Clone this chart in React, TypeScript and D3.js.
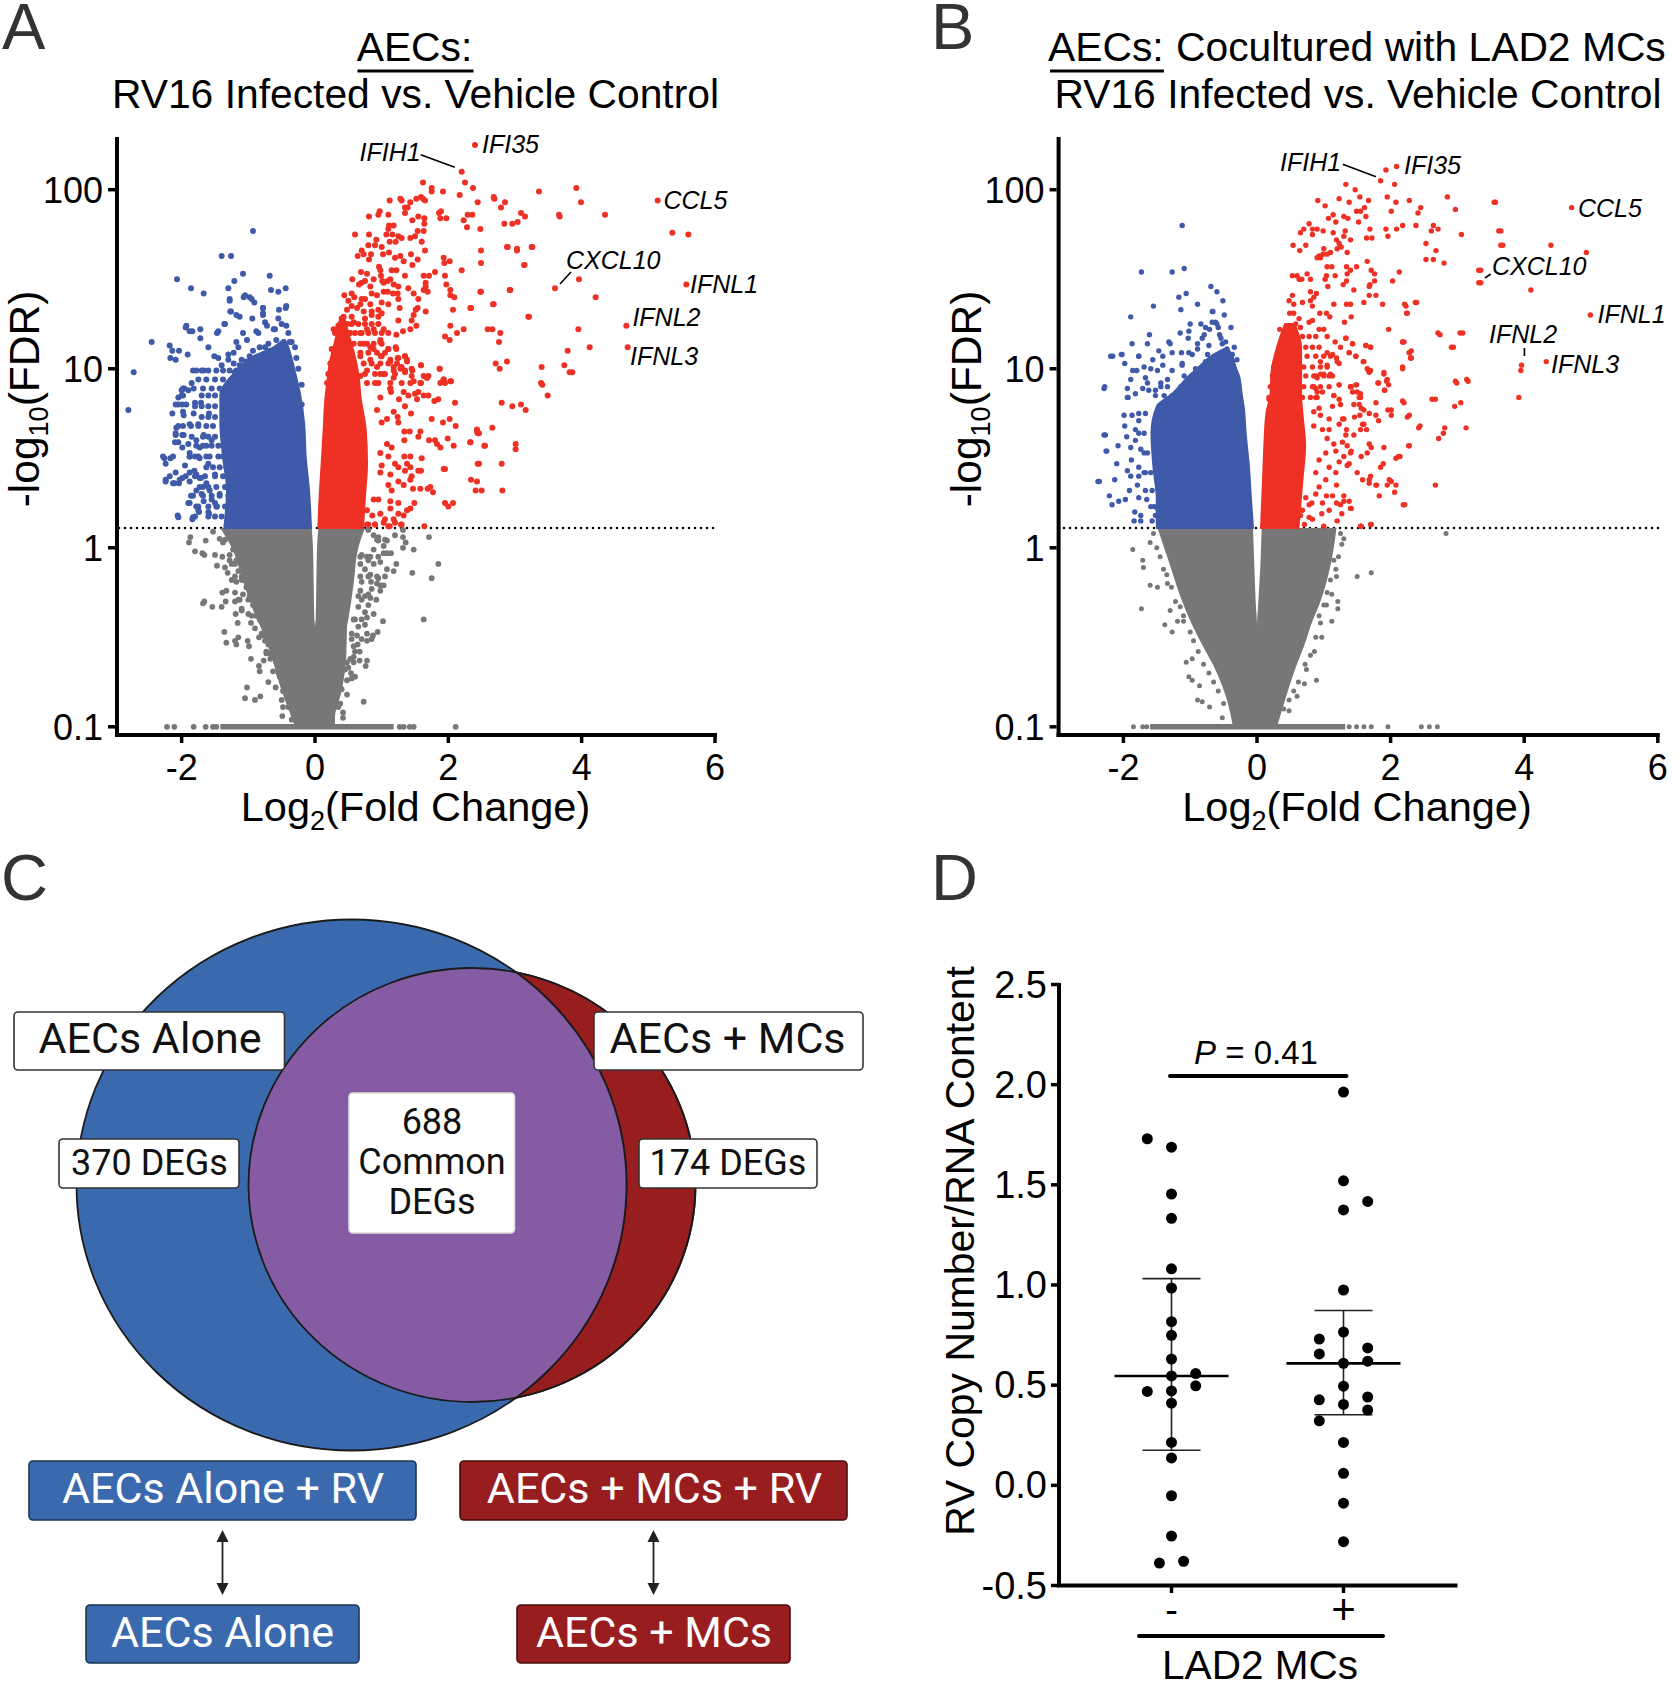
import * as d3 from "d3";

type Pt = [number, number]; // [log2 fold change, log10 of the plotted -log10(FDR)]
type Row = [number, number, number]; // [log10 of plotted value, low fc, high fc] for the solid part of a cloud

const xTicks = [-2, 0, 2, 4, 6];
const yTicks = [0.1, 1, 10, 100];
const yFmt = ["0.1", "1", "10", "100"];

// panel A
const redA: Pt[] = [[2.40,2.25],[2.20,2.10],[2.25,2.04],[2.37,2.01],[2.17,1.97],[1.62,2.04],[1.75,2.01],[1.75,1.99],[1.92,1.99],[2.68,1.96],[2.69,1.95],[2.85,1.93],[2.79,1.90],[3.36,1.99],[2.44,1.93],[1.12,1.94],[1.28,1.95],[1.30,1.94],[1.43,1.93],[1.52,1.95],[1.59,1.96],[1.65,1.94],[1.62,1.95],[1.35,1.90],[1.39,1.90],[1.35,1.87],[.97,1.88],[.95,1.86],[.81,1.85],[1.10,1.86],[1.89,1.88],[1.86,1.87],[1.88,1.84],[1.97,1.84],[2.29,1.86],[2.36,1.86],[2.23,1.83],[2.28,1.79],[2.48,1.78],[3.09,1.87],[3.15,1.85],[3.04,1.82],[2.96,1.81],[2.84,1.81],[3.66,1.86],[1.55,1.85],[1.64,1.84],[1.64,1.81],[1.46,1.83],[1.63,1.77],[1.54,1.77],[1.50,1.74],[1.43,1.73],[1.60,1.71],[1.11,1.80],[1.18,1.80],[1.10,1.78],[1.07,1.75],[1.16,1.75],[.60,1.75],[.81,1.75],[1.25,1.74],[1.30,1.73],[1.12,1.71],[1.21,1.71],[.92,1.72],[.90,1.69],[.80,1.69],[1.00,1.68],[.70,1.66],[.84,1.64],[.64,1.63],[.73,1.64],[1.02,1.64],[1.11,1.65],[.81,1.61],[1.20,1.62],[1.28,1.63],[1.44,1.64],[1.65,1.66],[1.54,1.61],[1.33,1.60],[1.46,1.58],[2.49,1.66],[2.49,1.59],[2.88,1.68],[3.03,1.67],[3.25,1.68],[3.14,1.58],[1.93,1.62],[1.94,1.59],[2.02,1.60],[2.20,1.55],[1.95,1.52],[1.80,1.54],[1.71,1.52],[1.63,1.52],[1.66,1.48],[1.66,1.46],[1.63,1.44],[1.69,1.43],[1.97,1.47],[2.03,1.44],[2.03,1.41],[2.09,1.40],[1.40,1.45],[1.48,1.42],[1.55,1.39],[2.48,1.43],[2.92,1.44],[3.60,1.45],[2.67,1.36],[2.33,1.34],[2.07,1.33],[1.66,1.32],[1.54,1.34],[1.51,1.33],[1.48,1.30],[1.45,1.27],[1.52,1.24],[1.43,1.22],[1.32,1.21],[1.25,1.27],[3.20,1.29],[2.03,1.24],[2.23,1.22],[2.13,1.20],[1.95,1.18],[2.02,1.16],[2.59,1.22],[2.66,1.22],[2.78,1.20],[2.76,1.15],
[1.35,1.52],[1.22,1.55],[1.15,1.55],[.96,1.57],[.98,1.55],[.69,1.54],[.78,1.53],[.56,1.50],[.88,1.50],[.99,1.52],[1.01,1.49],[1.13,1.50],[1.09,1.49],[1.03,1.48],[1.18,1.47],[1.25,1.46],[.66,1.47],[.70,1.48],[.75,1.49],[.83,1.46],[.44,1.41],[.55,1.42],[.59,1.40],[.50,1.38],[.85,1.42],[.93,1.41],[1.03,1.43],[1.09,1.43],[1.17,1.42],[1.24,1.42],[1.25,1.39],[.70,1.39],[.75,1.39],[.83,1.36],[1.00,1.37],[1.10,1.36],[1.27,1.34],[.63,1.34],[.73,1.32],[.85,1.32],[.85,1.30],[.95,1.33],[1.00,1.31],[.95,1.29],[.55,1.29],[.40,1.28],[.75,1.28],[1.03,1.22],[.88,1.22],[.78,1.22],[1.10,1.20],[1.22,1.19],[.28,1.22],[.32,1.21],
[3.79,1.10],[2.71,1.03],[2.88,1.04],[2.77,1.00],[3.40,1.01],[3.74,1.02],[3.39,.92],[3.82,.98],[.25,1.11],[.98,1.16],[1.10,1.11],[1.22,1.11],[.99,1.07],[1.35,1.07],[1.38,1.05],[1.24,1.06],[1.13,1.05],[1.30,1.01],[1.59,1.02],[1.87,1.00],[1.46,.99],[1.35,.98],[1.70,.96],[1.68,.95],[1.48,.93],[1.58,.92],[1.93,.94],[2.03,.93],[1.95,.92],[1.13,.89],[.43,1.18],[.53,1.20],[.58,1.14],[.68,1.20],[.73,1.14],[.83,1.12],[.68,1.07],[.83,1.05],[.93,1.01],[.78,.99],[.68,.96],[.90,.92],[1.03,.97],[1.18,.99],
[3.92,2.01],[3.99,1.93],[3.67,1.85],[4.35,1.86],[5.14,1.94],[5.36,1.76],[5.60,1.75],[3.26,1.68],[3.03,1.66],[2.89,1.68],[3.14,1.58],[3.96,1.50],[4.21,1.40],[5.57,1.47],[3.21,1.29],[3.95,1.22],[4.67,1.24],[4.69,1.12],[4.12,1.12],[3.86,.98],[3.41,.91],[3.49,.85],[2.96,.79],[3.09,.80],[3.16,.77],[2.80,.81],[3.01,.58],[3.01,.55],[2.66,.67],[2.43,.65],[2.46,.64],[2.55,.57],[2.33,.59],[2.80,.47],[2.46,.47],[2.43,.37],[2.50,.32],[2.81,.32],[2.68,1.36],[2.34,1.34],[2.49,1.43],[2.93,1.44],
[.88,1.11],[.98,1.15],[1.1,1.11],[1.21,1.12],[1,1.07],[1.13,1.04],[1.25,1.06],[1.35,1.07],[1.38,1.04],[1.18,1.01],[1.28,1],[1.59,1.02],[1.35,.99],[1.45,1],[.98,.97],[1.18,.95],[1.45,.96],[1.43,.92],[1.63,.96],[1.68,.95],[1.59,.92],[1.87,1],[1.93,.94],[1.88,.92],[2.04,.93],[1.13,.89],[1.14,.87],[1.33,.87],[1.4,.85],[1.5,.86],[1.55,.87],[1.63,.85],[1.7,.85],[1.53,.83],[1.26,.83],[1.35,.79],[1.44,.75],[1.18,.76],[1.24,.73],[1.25,.7],[.98,.84],[.93,.77],[1.08,.72],[1,.7],[1.79,.82],[1.85,.83],[2.1,.81],[1.75,.72],[2.02,.72],[1.92,.7],[2.11,.68],[1.42,.65],[1.34,.65],[1.58,.65],[1.34,.6],[1.55,.62],[1.71,.6],[1.8,.6],[1.83,.58],[1.99,.61],[1.88,.56],[2.08,.57],[2.33,.59],[2.43,.66],[2.44,.64],[2.54,.57],[1.08,.58],[1.15,.56],[.98,.53],[1.1,.51],[1.34,.51],[1.43,.51],[1.6,.5],[1,.46],[1.2,.47],[1.25,.45],[1.38,.47],[1.43,.45],[1.35,.43],[1.45,.4],[1.55,.43],[1.59,.43],[1.93,.44],[1.95,.44],[2.44,.47],[.98,.42],[1.13,.41],[1.43,.38],[1.25,.37],[1.33,.35],[1.1,.35],[1.15,.32],[1.47,.33],[1.58,.33],[1.73,.34],[1.69,.33],[1.77,.31],[2.34,.38],[2.41,.32],[.88,.27],[.95,.27],[1.13,.26],[1.25,.25],[1.49,.25],[1.43,.22],[1.38,.21],[1.95,.25],[2,.23],[2.07,.25],[1.13,.22],[.98,.19],[1.25,.19],[1.33,.18],[.78,.21],[.86,.18],[1.18,.16],[.9,.13],[1.05,.16],[1.1,.12],[1.29,.13],[1.64,.12],[.8,.13],[.78,.13],[.90,.13],[1.03,.14],[1.12,.12],[1.20,.14],[1.30,.13]];
const redCloudA: Pt[] = [[.38,1.25],[.48,1.25],[.55,1.25],[.65,1.25],[.75,1.25],[.85,1.25],[.95,1.25],[.3,1.2],[.4,1.2],[.5,1.2],[.6,1.2],[.7,1.2],[.8,1.2],[.9,1.2],[1,1.2],[.33,1.14],[.48,1.14],[.68,1.14],[.78,1.14],[.88,1.14],[1,1.14],[.28,1.09],[.55,1.09],[.68,1.09],[.8,1.09],[.93,1.09],[1.05,1.09],[.23,1.03],[.58,1.03],[.73,1.03],[.85,1.03],[.98,1.03],[1.1,1.03],[1.23,1.03],[.2,.97],[.6,.97],[.75,.97],[.9,.97],[1.05,.97],[1.2,.97],[.18,.92],[.63,.92],[.78,.92],[.95,.92],[1.13,.92],[1.3,.92],[.48,1.33],[.55,1.35],[.68,1.36],[.43,1.29],[.58,1.26],[.35,1.24]];
const blueA: Pt[] = [[-.93,1.77],[-1.40,1.63],[-1.26,1.63],[-2.07,1.50],[-1.86,1.45],[-1.67,1.42],[-1.08,1.53],[-1.21,1.49],[-1.30,1.45],[-1.28,1.38],[-1.07,1.40],[-.98,1.40],[-.91,1.37],[-.68,1.52],[-.66,1.44],[-.55,1.43],[-.44,1.45],[-.78,1.34],[-.78,1.30],[-.44,1.34],[-.54,1.33],[-1.26,1.32],[-1.13,1.29],[-.94,1.28],[-1.36,1.25],[-1.47,1.20],[-1.94,1.23],[-1.84,1.21],[-1.72,1.17],[-2.45,1.15],[-2.72,.98],[-2.80,.77],[-2.18,1.13],[-2.14,1.10],[-2.04,1.10],[-2.17,1.06],[-2.09,1.05],[-1.91,1.08],[-1.60,1.12],[-1.51,1.07],[-1.78,.99],[-1.67,.99],
[-2.26,.50],[-2.17,.50],[-2.24,.37],[-2.13,.36],[-2.04,.36],[-1.99,.39],[-2.09,.42],[-1.88,.42],[-1.78,.41],[-2.05,.59],[-2.09,.63],[-1.97,.63],[-1.86,.68],[-2.05,.68],[-1.88,.51],[-1.73,.50],[-1.63,.51],[-1.99,.80],[-2.09,.80],[-2.05,.84],[-1.96,.89],[-1.82,.89],[-1.71,.81],[-1.59,.75],[-1.82,.75],[-1.97,.74],[-1.55,.60],[-1.67,.63],[-1.78,.60],[-1.63,.36],[-1.71,.39],[-1.86,.29],[-1.90,.25],[-1.78,.23],[-1.67,.26],[-1.55,.27],[-2.05,.17],[-1.84,.16],[-1.74,.20],[-1.59,.19],[-1.47,.23],
[-1.15,1.12],[-1.02,1.16],[-.85,1.20],[-.72,1.24],[-.62,1.22],[-.50,1.25],[-.40,1.20],[-.35,1.15],[-1.22,1.03],[-1.10,1.05],[-.98,1.07],[-.88,1.05],[-.75,1.12],[-.68,1.10],[-1.40,1.02],[-1.30,1.08],
[-2,.88],[-1.98,.85],[-1.9,.88],[-1.85,.92],[-1.8,.81],[-1.93,.8],[-2.05,.8],[-2.14,.75],[-1.98,.76],[-2.08,.67],[-1.98,.68],[-1.88,.69],[-1.75,.69],[-2.09,.64],[-1.99,.63],[-1.85,.62],[-2.1,.59],[-1.99,.56],[-1.9,.58],[-1.73,.56],[-2.28,.51],[-2.13,.51],[-2.24,.47],[-1.88,.53],[-1.95,.46],[-1.8,.51],[-2.18,.4],[-2.24,.38],[-2.11,.36],[-2.03,.38],[-1.94,.4],[-1.81,.43],[-1.88,.37],[-1.73,.39],[-1.78,.32],[-1.68,.34],[-1.83,.29],[-1.88,.25],[-1.7,.3],[-1.58,.32],[-1.75,.21],[-1.83,.17],[-2.06,.18],[-1.6,.2],[-1.5,.25],[-1.43,.3],[-1.6,.47],[-1.5,.41],[-1.68,.62],[-1.63,.57],[-1.45,1.06],[-1.3,1.05],[-1.22,1.09],[-1.18,1.15],[-1.45,1.21],[-1.35,1.25],[-1.72,1.22],[-1.88,1.21],[-1.93,1.24],[-1.08,1.2],[-.88,1.21],[-.75,1.26],[-.6,1.22],[-.43,1.24],[-.55,1.28],[-.78,1.31],[-1.05,1.41],[-.95,1.39],[-1.28,1.39],[-1.27,1.32],[-1.18,1.3],[-.43,1.35],[-.78,1.34]];
const blueCloudA: Pt[] = [[-1.83,.99],[-1.7,.99],[-1.6,.99],[-1.48,.99],[-1.38,.99],[-1.28,.99],[-1.18,.99],[-1.75,.94],[-1.63,.94],[-1.5,.94],[-1.38,.94],[-1.25,.94],[-1.13,.94],[-1.98,.89],[-1.68,.89],[-1.55,.89],[-1.43,.89],[-1.3,.89],[-1.18,.89],[-2,.85],[-1.7,.85],[-1.6,.85],[-1.5,.85],[-1.38,.85],[-1.8,.79],[-1.7,.79],[-1.6,.79],[-1.5,.79],[-1.7,.73],[-1.6,.73],[-1.5,.73],[-1.75,.68],[-1.63,.68],[-1.53,.68],[-1.6,.62],[-1.5,.62],[-1.78,.57],[-1.68,.57],[-1.55,.57],[-1.45,.57],[-1.88,.51],[-1.75,.51],[-1.58,.51],[-1.45,.51],[-1.38,.51],[-1.63,.45],[-1.53,.45],[-1.43,.45],[-1.33,.45],[-1.8,.4],[-1.65,.4],[-1.5,.4],[-1.38,.4],[-1.28,.4],[-1.73,.34],[-1.6,.34],[-1.48,.34],[-1.35,.34],[-1.25,.34],[-1.68,.29],[-1.55,.29],[-1.43,.29],[-1.3,.29],[-1.75,.23],[-1.6,.23],[-1.48,.23],[-1.35,.23],[-1.8,.175],[-1.6,.175],[-1.5,.175],[-1.4,.175],[-.93,1.1],[-.83,1.12],[-.7,1.14],[-.58,1.16],[-.48,1.14],[-.38,1.15],[-.3,1.12],[-1.03,1.04],[-1.13,1.02],[-1.2,.98],[-.28,1.06],[-.25,1],[-.2,.91],[-.2,.8]];
const greyA: Pt[] = [[-1.87,.06],[-1.89,.03],[-1.64,.04],[-1.80,-.02],[-1.69,-.03],[-1.66,-.04],[-1.50,-.04],[-1.39,-.05],[-1.47,-.10],[-1.35,-.11],[-1.25,-.09],[-1.31,-.14],[-1.25,-.18],[-1.18,-.19],[-1.39,-.25],[-1.33,-.24],[-1.20,-.25],[-1.66,-.30],[-1.68,-.31],[-1.54,-.33],[-1.40,-.33],[-1.34,-.30],[-1.20,-.30],[-1.15,-.29],[-1.08,-.26],[-1.10,-.34],[-1.10,-.35],[-1.19,-.37],[-1.16,-.42],[-.96,-.42],[-.90,-.45],[-1.36,-.47],[-1.33,-.53],[-1.20,-.52],[-1.15,-.50],[-1.18,-.54],[-1.01,-.52],[-.99,-.55],[-.84,-.50],[-.75,-.52],[-.96,-.62],[-.77,-.63],[-.84,-.66],[-.83,-.69],[-.67,-.62],[-.63,-.69],[-.70,-.75],[-.59,-.78],[-1.02,-.78],[-1.05,-.84],[-.90,-.85],[-.82,-.83],[-.49,-.94],[-.35,-.96],[-.48,-.89],[-.50,-.85],[-.73,-.58],
[1.71,.06],[1.32,.10],[1.32,.06],[1.36,.03],[1.32,0],[1.48,-.01],[1.20,.07],[1.08,.04],[.95,.06],[1.85,-.09],[1.75,-.17],[1.46,-.14],[1.18,-.13],[1.22,-.09],[1.08,-.03],[1.14,-.03],[1.03,-.03],[.98,-.08],[1.08,-.12],[1.05,-.16],[.95,-.17],[1.03,-.21],[.98,-.24],[.84,-.19],[.85,-.23],[.83,-.28],[.92,-.29],[.70,-.29],[.80,-.32],[.88,-.37],[1.02,-.41],[.78,-.39],[1.63,-.40],[.75,-.43],[.78,-.48],[.94,-.47],[.87,-.49],[.85,-.51],[.78,-.52],[.63,-.49],[.64,-.54],[.58,-.55],[.67,-.58],[.58,-.61],[.67,-.63],[.78,-.63],[.76,-.66],[.50,-.67],[.45,-.68],[.54,-.70],[.60,-.72],[.55,-.73],[.73,-.86],[.48,-.82],[.42,-.92],[.42,-.95],[.35,-.89],[.70,-.04],[.80,-.07],[.68,-.09],
[-1.53,.09],[-1.43,.05],[-1.38,.03],[-1.23,-.01],[-1.28,-.04],[-1.2,-.09],[-1.15,-.13],[-1.1,-.18],[-1.03,-.22],[-.98,-.27],[-.93,-.32],[-1,-.37],[-.83,-.4],[-.73,-.44],[-.78,-.49],[-.7,-.54],[-.68,-.59],[-.58,-.64],[-.53,-.72],[-.48,-.8],[-.4,-.89],
[.8,.1],[.88,.07],[.95,.04],[1.03,.01],[.88,-.01],[.78,-.05],[.88,-.09],[.75,-.12],[.83,-.15],[.7,-.19],[.93,-.2],[.98,-.21],[.68,-.24],[.8,-.26],[.65,-.33],[.75,-.36],[.58,-.4],[.65,-.44],[.55,-.48],[.6,-.58],[.53,-.62],[.48,-.74],[.4,-.79],[.38,-.87],
[-1.35,.045],[-1.25,.045],[-1.28,-.07],[-1.18,-.07],[-1.2,-.16],[-1.1,-.16],[-1.13,-.29],[-1,-.29],[-.95,-.38],[-.88,-.38],[-.8,-.48],[-.7,-.48],[-.73,-.59],[-.63,-.59],[-.55,-.7],[.93,.045],[1.05,.045],[.68,-.05],[.83,-.05],[.95,-.05],[.68,-.16],[.8,-.16],[.93,-.16],[.65,-.27],[.75,-.27],[.6,-.4],[.7,-.4],[.55,-.51],[.7,-.51],[.48,-.64],[.58,-.64],
[-2.22,-1],[-2.11,-1],[-1.82,-1],[-1.64,-1],[-1.53,-1],[-1.48,-1],[1.27,-1],[1.33,-1],[1.42,-1],[1.48,-1],[2.11,-1]];
const redCoreA: Row[] = [[.11,.05,.72],[.29,.07,.75],[.47,.10,.78],[.66,.13,.76],[.85,.16,.68],[.94,.19,.66],[1.03,.22,.62],[1.12,.28,.56],[1.2,.33,.5],[1.28,.38,.44]];
const blueCoreA: Row[] = [[.11,-1.36,-.06],[.32,-1.32,-.09],[.51,-1.38,-.14],[.70,-1.42,-.165],[.85,-1.42,-.22],[.98,-1.2,-.3],[1.07,-.92,-.36],[1.12,-.62,-.4],[1.16,-.48,-.45]];
const greyCoreA: Row[][] = [
  [[.11,-1.42,-.05],[0,-1.25,-.03],[-.2,-1.07,-.02],[-.4,-.87,-.01],[-.44,-.82,0],[-.6,-.66,0],[-.8,-.5,0],[-.95,-.35,0],[-1,-.3,0]],
  [[.11,.05,.75],[0,.03,.65],[-.2,.02,.58],[-.4,.01,.50],[-.44,0,.48],[-.6,0,.47],[-.8,0,.40],[-.95,0,.30],[-1,0,.30]],
  [[-.985,-1.42,1.18],[-1.015,-1.42,1.18]],
];

// panel B
const redB: Pt[] = [[2.09,2.13],[1.93,2.11],[1.85,2.05],[2.06,2.03],[1.33,2.03],[1.47,2.00],[1.54,1.96],[.91,1.94],[1.02,1.91],[1.23,1.95],[1.38,1.93],[1.67,1.94],[1.95,1.96],[2.08,1.93],[2.28,1.94],[2.85,1.96],[3.55,1.93],[2.97,1.89],[2.45,1.90],[2.41,1.87],[2.01,1.88],[1.61,1.90],[1.49,1.88],[1.55,1.88],[1.63,1.85],[1.07,1.84],[1.14,1.86],[1.18,1.82],[1.30,1.85],[1.36,1.84],[1.52,1.82],[.78,1.81],[.65,1.76],[.70,1.78],[.83,1.78],[.90,1.78],[.99,1.77],[.83,1.75],[1.14,1.76],[1.32,1.77],[1.30,1.74],[1.19,1.72],[1.40,1.72],[1.23,1.70],[.54,1.69],[.73,1.69],[.64,1.66],[1.64,1.73],[1.72,1.73],[1.69,1.78],[1.93,1.78],[2.09,1.78],[2.18,1.80],[2.38,1.80],[1.96,1.74],[2.64,1.80],[2.61,1.77],[2.71,1.78],[3.06,1.75],[3.62,1.77],[3.65,1.69],[2.53,1.70],[2.68,1.66],[2.53,1.61],[2.64,1.61],[2.80,1.59],[3.32,1.55],[3.32,1.48],
[1.00,1.67],[.93,1.63],[.99,1.64],[1.05,1.64],[1.10,1.65],[.90,1.62],[.95,1.62],[1.26,1.68],[1.20,1.67],[1.35,1.65],[1.65,1.60],[1.05,1.57],[1.12,1.57],[1.34,1.57],[1.40,1.55],[1.49,1.57],[1.71,1.55],[1.76,1.53],[1.76,1.49],[1.69,1.47],[1.68,1.46],[2.13,1.54],[2.03,1.49],[.53,1.52],[.60,1.52],[.63,1.50],[.67,1.50],[.75,1.53],[.80,1.50],[1.04,1.52],[1.02,1.50],[1.06,1.46],[1.17,1.52],[1.35,1.53],[1.34,1.49],[1.29,1.47],[1.45,1.44],[1.68,1.41],[1.78,1.41],[1.60,1.37],[1.15,1.36],[1.34,1.36],[1.40,1.36],[1.88,1.36],[2.21,1.36],[2.37,1.37],[2.24,1.31],[.53,1.41],[.80,1.43],[.89,1.42],[.85,1.40],[.80,1.38],[.68,1.37],[.48,1.38],[.55,1.36],[.83,1.35],[.55,1.31],[.49,1.31],[.94,1.31],[1.04,1.31],[1.09,1.29],[.78,1.26],[.83,1.27],[.63,1.28],[.58,1.25],[.34,1.22],[.45,1.20],[.65,1.23],[.93,1.22],[1.00,1.22],[1.05,1.18],[1.31,1.26],[1.41,1.29],[1.97,1.22],[2.71,1.20],[3.04,1.20],[2.91,1.12],[2.18,1.15],[2.28,1.09],[2.30,1.06],[1.63,1.13],[1.70,1.12],[1.33,1.17],[1.43,1.14],[1.25,1.12],[1.17,1.15],[2.18,1.00],[1.60,1.04],[1.65,1.00],[1.68,.98],[1.90,.97],[1.82,.92],[1.94,.93],[1.91,.88],[2.97,.93],[3.14,.94],[1.38,1.09],[1.48,1.07],[1.10,1.07],[1.19,1.06],[1.23,1.03],[1.05,1.01],[.95,.97],[.85,.96],[1.08,.96],[1.23,.91],[1.40,.90],[1.49,.91],[1.43,.87],[1.55,.86],[1.15,.85],[.85,.90],[.90,.87],[2.62,.83],
[4.71,1.90],[3.57,1.93],[3.65,1.77],[3.68,1.69],[4.40,1.69],[4.93,1.65],[4.10,1.44],[4.99,1.30],[4.33,1.04],[3.95,.99],[3.96,1.02],[3.92,.84],[2.74,1.19],[3.08,1.20],[2.94,1.12],[2.31,1.10],[2.31,1.06],[2.20,1.15],[2.39,1.37],[2.23,1.35],[2.25,1.31],[3.35,1.55],[3.35,1.48],[3.16,.93],[2.99,.92],[3.05,.81],[2.96,.79],[2.67,.83],[3.13,.67],[2.81,.67],[2.79,.64],[2.72,.61],[2.44,.68],[2.28,.57],[2.28,.74],[2.20,.81],[2.01,.77],[2.14,.51],[2.67,.35],[2.21,.24],[2.01,.37],[2.08,.35],[1.85,.45],[2.01,.74],[1.97,.91],[1.70,.99],[1.53,.84],[1.56,.78],[1.60,.69],[1.41,.90],[1.68,.75],[1.82,.71],[1.34,.66],[1.30,.72],[1.45,.63],[1.41,.54],[1.38,.47],[1.71,.56],[1.56,.51],[1.38,.26],[1.41,.22],[1.30,.26],[1.27,.19],[1.19,.25],[.97,.19],[.82,.25],[1.04,.29],[.78,.17],[.71,.13],[1.71,.13],[1.56,.12],[1.79,.35],[1.68,.38],[2.08,.50],
[.18,.83],[1.33,1.17],[1.43,1.14],[1.63,1.13],[1.7,1.12],[2.18,1.15],[2.28,1.09],[2.3,1.06],[1.38,1.09],[1.48,1.07],[1.59,1.04],[1.2,1.04],[1.05,1.09],[1.13,1.08],[.95,1.04],[1.05,1.02],[1.67,.99],[1.9,.98],[1.95,.94],[1.81,.92],[1.91,.88],[2.18,1.01],[1.48,.91],[1.4,.9],[1.23,.91],[1.5,.87],[1.55,.84],[1.53,.8],[1.45,.8],[1.23,.83],[1.15,.85],[1.1,.97],[1,.97],[.9,.95],[.88,.89],[.98,.87],[.88,.84],[1.78,.81],[1.96,.77],[2.18,.82],[1.78,.74],[2.25,.73],[2.42,.67],[1.6,.77],[1.46,.73],[1.54,.74],[1.13,.79],[1.25,.8],[.93,.78],[.85,.76],[.95,.74],[1.08,.72],[1.28,.72],[1.23,.69],[1.58,.69],[1.55,.66],[1.64,.66],[.85,.68],[.98,.66],[1.08,.66],[1.33,.63],[1.05,.61],[1.15,.58],[1.28,.59],[1.68,.58],[1.9,.56],[2.27,.57],[1.65,.53],[2.12,.51],[1.89,.47],[1.35,.57],[1.4,.53],[1.3,.51],[1.03,.53],[.93,.49],[1.18,.54],[1.23,.48],[1.08,.45],[1.18,.42],[1.35,.46],[1.5,.42],[.88,.42],[1.03,.38],[1.58,.38],[1.7,.4],[1.68,.36],[1.78,.35],[1.98,.38],[1.95,.35],[2.06,.31],[1.83,.29],[2.19,.24],[1.19,.35],[.93,.34],[1.13,.29],[1.3,.29],[.88,.3],[.73,.28],[.98,.25],[1.08,.21],[1.25,.24],[1.4,.22],[.78,.24],[.68,.21],[.65,.18],[1.2,.15],[1,.12],[1.55,.12],[1.7,.13],[.83,.16]];
const redCloudB: Pt[] = [[.38,1.18],[.48,1.18],[.58,1.18],[.68,1.18],[.78,1.18],[.88,1.18],[.33,1.12],[.43,1.12],[.53,1.12],[.63,1.12],[.73,1.12],[.83,1.12],[.93,1.12],[.3,1.07],[.63,1.07],[.75,1.07],[.88,1.07],[1,1.07],[.25,1.01],[.7,1.01],[.83,1.01],[.95,1.01],[.23,.96],[.73,.96],[.88,.96],[1,.96],[1.13,.96],[.2,.9],[.7,.9],[.83,.9],[.95,.9],[1.08,.9],[.18,.84],[.68,.84],[.8,.84],[.9,.84]];
const blueB: Pt[] = [[-1.12,1.80],[-1.73,1.54],[-1.27,1.54],[-1.09,1.56],[-1.06,1.42],[-1.17,1.40],[-1.14,1.33],[-1.55,1.35],[-.89,1.36],[-1.89,1.29],[-.69,1.46],[-.60,1.43],[-.51,1.38],[-.66,1.32],[-.67,1.26],[-.60,1.25],[-.71,1.22],[-.56,1.19],[-2.16,1.07],[-2.03,1.08],[-1.77,1.07],[-2.29,.89],[-2.27,.63],[-2.25,.54],[-2.36,.37],[-2.08,.57],[-1.94,.84],[-1.86,.99],[-1.64,1.14],[-1.56,1.05],[-1.49,.99],[-1.30,1.14],[-1.41,1.07],[-1.12,1.02],[-.97,1.08],[-.89,1.11],[-.82,1.17],[-.74,1.08],[-.52,1.14],[-.45,1.11],[-.30,1.05],[-1.71,.89],[-1.64,.92],[-1.15,1.2],[-1.00,1.25],
[-2.02,1.08],[-2.19,1.07],[-1.98,1.03],[-1.77,1.07],[-1.8,.99],[-1.69,1.01],[-1.59,1],[-1.47,1.1],[-1.41,1.02],[-1.67,.95],[-1.89,.94],[-1.94,.89],[-2.28,.9],[-1.93,.84],[-1.82,.86],[-1.62,.88],[-1.52,.88],[-1.44,.92],[-1.34,.94],[-1.27,.99],[-1.12,1.03],[-1.02,1.09],[-1.13,1.09],[-1.27,1.09],[-1.32,1.15],[-1.87,1.14],[-1.61,1.19],[-1.02,1.21],[-1.03,1.17],[-.89,1.14],[-.77,1.23],[-.79,1.19],[-.72,1.13],[-.62,1.26],[-.58,1.23],[-.54,1.17],[-.39,1.23],[-.47,1.15],[-.34,1.12],[-.67,1.32],[-.49,1.3],[-.84,1.25],[-1.99,.74],[-1.87,.74],[-1.98,.68],[-1.82,.66],[-1.77,.71],[-2.29,.63],[-1.95,.62],[-1.82,.6],[-1.89,.56],[-2.26,.54],[-1.74,.55],[-1.88,.49],[-2.1,.47],[-1.77,.45],[-1.94,.43],[-1.89,.4],[-2.13,.38],[-2.38,.37],[-1.77,.4],[-1.69,.42],[-1.79,.35],[-1.91,.32],[-1.97,.27],[-2.07,.26],[-2.21,.29],[-2.17,.24],[-1.77,.28],[-1.65,.27],[-1.83,.2],[-1.84,.15],[-1.74,.18],[-1.74,.15],[-1.57,.15],[-1.49,.22],[-1.52,.18],[-1.34,.18],[-1.29,.15],[-1.39,.19]];
const blueCloudB: Pt[] = [[-1.52,.85],[-1.39,.85],[-1.27,.85],[-1.14,.85],[-1.02,.85],[-1.44,.9],[-1.34,.9],[-1.14,.9],[-1.02,.9],[-.92,.9],[-1.09,.96],[-.97,.96],[-.87,.96],[-.92,1],[-.79,1],[-.77,1.04],[-.64,1.04],[-.52,1.04],[-.42,1.04],[-.59,1.08],[-.47,1.08],[-.37,1.08],[-1.77,.75],[-1.67,.75],[-1.77,.64],[-1.69,.64],[-1.69,.53],[-1.64,.53],[-1.67,.42],[-1.59,.42],[-1.67,.32],[-1.57,.32],[-1.59,.23],[-1.54,.23],[-1.44,.16],[-1.39,.16]];
const greyB: Pt[] = [[2.83,.08],[1.71,-.14],[1.50,-.16],[1.21,-.30],[1.21,-.34],[-1.73,-.34],[-1.86,-.01],[-1.71,-.07],[-1.70,-.11],[-1.60,-.21],[-1.49,-.22],[-1.34,-.20],[-1.38,-.43],[-1.10,-.41],[-1.06,-.64],[-1.02,-.72],[-.97,-.74],[-.89,-.85],[-.71,-.89],[-.82,-.86],[-.52,-.95],[-1.30,-.35],[-1.27,-.47],[-1.19,-.41],[-.97,-.62],[-.86,-.77],[.71,-.76],[.60,-.83],[.48,-.91],[.86,-.58],[.93,-.38],[1.12,-.26],[1.19,-.16],[1.27,.02],[1.15,-.07],[1.04,-.32],[.74,-.68],[.97,-.50],[1.12,-.41],[.89,-.74],
[-1.55,.08],[-1.6,.03],[-1.5,0],[-1.45,-.05],[-1.4,-.12],[-1.35,-.15],[-1.28,-.22],[-1.22,-.3],[-1.15,-.33],[-1.1,-.38],[-1,-.47],[-.95,-.52],[-.88,-.58],[-.8,-.65],[-.72,-.7],[-.65,-.75],[-.58,-.8],[-.5,-.87],[1.25,.08],[1.3,.05],[1.22,-.05],[1.18,-.12],[1.1,-.18],[1.05,-.25],[1,-.32],[.95,-.42],[.88,-.5],[.8,-.6],[.72,-.65],[.62,-.75],[.55,-.8],[.48,-.85],[.4,-.9],
[-1.85,-1],[-1.71,-1],[-1.65,-1],[1.38,-1],[1.49,-1],[1.60,-1],[1.71,-1],[1.96,-1],[2.46,-1],[2.58,-1],[2.70,-1]];
const redCoreB: Row[] = [[.11,.06,.62],[.38,.09,.68],[.57,.11,.72],[.75,.14,.68],[.85,.2,.66],[.99,.22,.66],[1.12,.3,.66],[1.19,.36,.62],[1.25,.42,.56]];
const blueCoreB: Row[] = [[.11,-1.5,-.06],[.27,-1.5,-.09],[.45,-1.55,-.12],[.64,-1.58,-.17],[.79,-1.5,-.2],[.86,-1.27,-.23],[.96,-1.02,-.27],[1.01,-.87,-.32],[1.07,-.69,-.37],[1.11,-.5,-.43]];
const greyCoreB: Row[][] = [
  [[.11,-1.49,-.06],[-.1,-1.3,-.04],[-.3,-1.12,-.02],[-.44,-.96,0],[-.5,-.88,0],[-.7,-.6,0],[-.85,-.45,0],[-1,-.36,0]],
  [[.11,.07,1.19],[-.1,.05,1.1],[-.3,.02,.95],[-.44,0,.8],[-.5,0,.75],[-.7,0,.55],[-.85,0,.42],[-1,0,.30]],
  [[-.985,-1.6,1.32],[-1.015,-1.6,1.32]],
];

// panel D: [value, swarm slot]
const groupMinus: Pt[] = [[1.73,-2],[1.688,0],[1.454,0],[1.333,0],[1.081,0],[.985,0],[.817,0],[.749,0],[.63,0],[.558,2],[.546,0],[.497,2],[.469,-2],[.471,0],[.41,0],[.214,0],[.137,0],[-.052,0],[-.253,0],[-.388,-1],[-.379,1]];
const groupPlus: Pt[] = [[1.963,0],[1.52,0],[1.417,2],[1.375,0],[.975,0],[.765,0],[.73,-2],[.656,-2],[.686,2],[.609,0],[.62,2],[.495,0],[.427,-2],[.441,2],[.404,0],[.376,2],[.322,-2],[.214,0],[.06,0],[-.089,0],[-.281,0]];
const summaries = [
  { cat: "-", mean: 0.546, hi: 1.032, lo: 0.175, dots: groupMinus },
  { cat: "+", mean: 0.609, hi: 0.873, lo: 0.352, dots: groupPlus },
];
const dTicks = [-0.5, 0, 0.5, 1, 1.5, 2, 2.5];

const SANS = "'Liberation Sans', Arial, sans-serif";
const ROBOTO = "Roboto, sans-serif";
const RED = "#EE3124";
const BLUE = "#3F5AA8";
const GREY = "#777777";
const VBLUE = "#3A69AE";
const VRED = "#971D1F";
const PURPLE = "#855CA4";

type Label = { t: string; x: number; y: number };
type Seg = [number, number, number, number];

function Volcano(p: {
  range: [number, number]; red: Pt[]; blue: Pt[]; grey: Pt[];
  redCore: Row[]; blueCore: Row[]; greyCore: Row[][];
  rRed: number; rBlue: number; rGrey: number;
  dotted: [number, number]; labels: Label[]; leaders: Seg[]; titleX: number;
}) {
  const x = d3.scaleLinear().domain([-3, 6]).range(p.range);
  const y = d3.scaleLog().domain([0.09, 197]).range([735, 137]);
  const area = d3.area<Row>().curve(d3.curveMonotoneY).y((r) => y(10 ** r[0])).x0((r) => x(r[1])).x1((r) => x(r[2]));
  const dots = (pts: Pt[], r: number, fill: string) =>
    pts.map((d, i) => <circle key={i} cx={x(d[0])} cy={y(10 ** d[1])} r={r} fill={fill} />);
  const yLabelX = p.range[0] - 76;
  return (
    <g fontFamily={SANS} fill="#000">
      <line x1={p.dotted[0]} x2={p.dotted[1]} y1={y(1.29)} y2={y(1.29)} stroke="#000" strokeWidth={2.6} strokeLinecap="round" strokeDasharray="0 6" />
      {p.greyCore.map((c, i) => <path key={i} d={area(c) as string} fill={GREY} />)}
      {dots(p.grey, p.rGrey, GREY)}
      <path d={area(p.blueCore) as string} fill={BLUE} stroke={BLUE} strokeWidth={2} strokeLinejoin="round" />
      {dots(p.blue, p.rBlue, BLUE)}
      <path d={area(p.redCore) as string} fill={RED} stroke={RED} strokeWidth={2} strokeLinejoin="round" />
      {dots(p.red, p.rRed, RED)}

      <line x1={p.range[0] + 2} x2={p.range[0] + 2} y1={137} y2={737} stroke="#000" strokeWidth={4} />
      <line x1={p.range[0]} x2={p.range[1] + 2} y1={735} y2={735} stroke="#000" strokeWidth={4} />
      {yTicks.map((t, i) => (
        <g key={t}>
          <line x1={p.range[0] - 7} x2={p.range[0]} y1={y(t)} y2={y(t)} stroke="#000" strokeWidth={3.5} />
          <text x={p.range[0] - 12} y={y(t) + 13} fontSize={36} textAnchor="end">{yFmt[i]}</text>
        </g>
      ))}
      {xTicks.map((t) => (
        <g key={t}>
          <line x1={x(t)} x2={x(t)} y1={735} y2={743} stroke="#000" strokeWidth={3.5} />
          <text x={x(t)} y={780} fontSize={36} textAnchor="middle">{t}</text>
        </g>
      ))}
      <text x={p.titleX} y={821} fontSize={41.5} textAnchor="middle">
        Log<tspan fontSize={27} dy={9}>2</tspan><tspan dy={-9}>(Fold Change)</tspan>
      </text>
      <text transform={`translate(${yLabelX},399) rotate(-90)`} fontSize={42.5} textAnchor="middle">
        -log<tspan fontSize={27} dy={9}>10</tspan><tspan dy={-9}>(FDR)</tspan>
      </text>
      {p.labels.map((l) => (
        <text key={l.t} x={l.x} y={l.y} fontSize={25} fontStyle="italic">{l.t}</text>
      ))}
      {p.leaders.map((s, i) => (
        <line key={i} x1={s[0]} y1={s[1]} x2={s[2]} y2={s[3]} stroke="#000" strokeWidth={1.6} />
      ))}
    </g>
  );
}

function Swarm() {
  const x = d3.scalePoint<string>().domain(summaries.map((s) => s.cat)).range([1171.5, 1343.5]);
  const y = d3.scaleLinear().domain([-0.5, 2.5]).range([1585.5, 984.5]);
  return (
    <g fontFamily={SANS} fill="#000">
      <text transform="translate(974,1251) rotate(-90)" fontSize={40.9} textAnchor="middle">RV Copy Number/RNA Content</text>
      <line x1={1059} x2={1059} y1={983} y2={1587} stroke="#000" strokeWidth={4} />
      <line x1={1057} x2={1457.5} y1={1585.5} y2={1585.5} stroke="#000" strokeWidth={4} />
      {dTicks.map((t) => (
        <g key={t}>
          <line x1={1051} x2={1059} y1={y(t)} y2={y(t)} stroke="#000" strokeWidth={3.5} />
          <text x={1047} y={y(t) + 13} fontSize={38} textAnchor="end">{d3.format(".1f")(t).replace("\u2212", "-")}</text>
        </g>
      ))}
      {summaries.map((s) => {
        const cx = x(s.cat) as number;
        return (
          <g key={s.cat}>
            <line x1={cx} x2={cx} y1={1585} y2={1593} stroke="#000" strokeWidth={3.5} />
            <text x={cx} y={s.cat === "-" ? 1623 : 1624} fontSize={s.cat === "-" ? 38 : 42} textAnchor="middle">{s.cat}</text>
            <line x1={cx} x2={cx} y1={y(s.hi)} y2={y(s.lo)} stroke="#222" strokeWidth={1.6} />
            <line x1={cx - 29} x2={cx + 29} y1={y(s.hi)} y2={y(s.hi)} stroke="#222" strokeWidth={1.6} />
            <line x1={cx - 29} x2={cx + 29} y1={y(s.lo)} y2={y(s.lo)} stroke="#222" strokeWidth={1.6} />
            <line x1={cx - 57} x2={cx + 57} y1={y(s.mean)} y2={y(s.mean)} stroke="#000" strokeWidth={2.6} />
            {s.dots.map((d, i) => <circle key={i} cx={cx + d[1] * 12.1} cy={y(d[0])} r={5.5} fill="#000" />)}
          </g>
        );
      })}
      <line x1={1170} x2={1346.5} y1={1076} y2={1076} stroke="#000" strokeWidth={4} strokeLinecap="round" />
      <text x={1256} y={1064} fontSize={33} textAnchor="middle"><tspan fontStyle="italic">P</tspan> = 0.41</text>
      <line x1={1139} x2={1383} y1={1636} y2={1636} stroke="#000" strokeWidth={4} strokeLinecap="round" />
      <text x={1260} y={1679} fontSize={40.5} textAnchor="middle">LAD2 MCs</text>
    </g>
  );
}

function Box(p: { x: number; y: number; w: number; h: number; fill: string; stroke: string; text: string[]; base: number[]; size: number; color: string; cx: number }) {
  return (
    <g>
      <rect x={p.x} y={p.y} width={p.w} height={p.h} rx={4} fill={p.fill} stroke={p.stroke} strokeWidth={1.6} />
      {p.text.map((t, i) => (
        <text key={t} x={p.cx} y={p.base[i]} fontSize={p.size} fill={p.color} textAnchor="middle" fontFamily={ROBOTO}>{t}</text>
      ))}
    </g>
  );
}

function Arrow({ x }: { x: number }) {
  return (
    <g fill="#222">
      <line x1={x} x2={x} y1={1536} y2={1589} stroke="#222" strokeWidth={1.8} />
      <path d={`M${x - 6},1542 L${x},1530 L${x + 6},1542 Z`} />
      <path d={`M${x - 6},1583 L${x},1595 L${x + 6},1583 Z`} />
    </g>
  );
}

function Venn() {
  const blueEllipse = { cx: 351.5, cy: 1185, rx: 275, ry: 265.5 };
  const redEllipse = { cx: 472, cy: 1185, rx: 223.5, ry: 217 };
  const ink = "#1b1b1b";
  return (
    <g>
      <defs>
        <clipPath id="vennClip"><ellipse {...redEllipse} /></clipPath>
      </defs>
      <ellipse {...redEllipse} fill={VRED} stroke={ink} strokeWidth={1.8} />
      <ellipse {...blueEllipse} fill={VBLUE} stroke={ink} strokeWidth={1.8} />
      <ellipse {...blueEllipse} fill={PURPLE} clipPath="url(#vennClip)" />
      <ellipse {...redEllipse} fill="none" stroke={ink} strokeWidth={1.8} />
      <ellipse {...blueEllipse} fill="none" stroke={ink} strokeWidth={1.8} clipPath="url(#vennClip)" />
      <Box x={14} y={1012} w={270.5} h={58} fill="#fff" stroke="#333" text={["AECs Alone"]} base={[1053]} size={43} color="#111" cx={150} />
      <Box x={594} y={1012} w={269} h={58} fill="#fff" stroke="#333" text={["AECs + MCs"]} base={[1053]} size={43} color="#111" cx={727.5} />
      <Box x={59} y={1139} w={180} h={49} fill="#fff" stroke="#333" text={["370 DEGs"]} base={[1175]} size={36} color="#111" cx={149.5} />
      <Box x={639} y={1139} w={178} h={49} fill="#fff" stroke="#333" text={["174 DEGs"]} base={[1175]} size={36} color="#111" cx={728} />
      <Box x={349} y={1093} w={165.5} h={140} fill="#fff" stroke="#ddd" text={["688", "Common", "DEGs"]} base={[1134, 1174, 1214]} size={36} color="#111" cx={432} />
      <Box x={29} y={1461} w={387} h={59} fill={VBLUE} stroke="#1d3557" text={["AECs Alone + RV"]} base={[1503]} size={43} color="#fff" cx={223} />
      <Box x={460} y={1461} w={387} h={59} fill={VRED} stroke="#4a0d0d" text={["AECs + MCs + RV"]} base={[1503]} size={43} color="#fff" cx={654.5} />
      <Box x={86} y={1605} w={273} h={58} fill={VBLUE} stroke="#1d3557" text={["AECs Alone"]} base={[1647]} size={43} color="#fff" cx={222.5} />
      <Box x={517} y={1605} w={273} h={58} fill={VRED} stroke="#4a0d0d" text={["AECs + MCs"]} base={[1647]} size={43} color="#fff" cx={654} />
      <Arrow x={222.5} />
      <Arrow x={653.5} />
    </g>
  );
}

const labelsA: Label[] = [
  { t: "IFIH1", x: 359.6, y: 161 }, { t: "IFI35", x: 482, y: 152.5 }, { t: "CCL5", x: 663.5, y: 209 },
  { t: "CXCL10", x: 566, y: 269 }, { t: "IFNL1", x: 690, y: 293 }, { t: "IFNL2", x: 632.4, y: 326 }, { t: "IFNL3", x: 630, y: 365 },
];
const labelsB: Label[] = [
  { t: "IFIH1", x: 1280, y: 170.7 }, { t: "IFI35", x: 1404, y: 174 }, { t: "CCL5", x: 1578, y: 217 },
  { t: "CXCL10", x: 1492, y: 275 }, { t: "IFNL1", x: 1597.5, y: 323 }, { t: "IFNL2", x: 1489, y: 342.5 }, { t: "IFNL3", x: 1551, y: 372.5 },
];

export default function App() {
  const letter = { fontFamily: SANS, fontSize: 65, fill: "#333" };
  return (
    <svg width={1677} height={1683} viewBox="0 0 1677 1683" style={{ position: "absolute", left: 0, top: 0, display: "block", background: "#fff" }}>
      <text x={2} y={49} {...letter}>A</text>
      <text x={931} y={49} {...letter}>B</text>
      <text x={1} y={900} {...letter}>C</text>
      <text x={931} y={900} {...letter}>D</text>

      <g fontFamily={SANS} fontSize={40.8} fill="#000">
        <text x={414.5} y={61} textAnchor="middle">AECs:</text>
        <line x1={357.5} x2={473.5} y1={71} y2={71} stroke="#000" strokeWidth={3} />
        <text x={415.5} y={107.5} textAnchor="middle">RV16 Infected vs. Vehicle Control</text>
        <text x={1048} y={61}>AECs:</text>
        <text x={1176} y={61}>Cocultured with LAD2 MCs</text>
        <line x1={1050} x2={1164} y1={71} y2={71} stroke="#000" strokeWidth={3} />
        <text x={1358} y={108} textAnchor="middle">RV16 Infected vs. Vehicle Control</text>
      </g>

      <Volcano range={[115, 715]} red={[...redA, ...redCloudA]} blue={[...blueA, ...blueCloudA]} grey={greyA} redCore={redCoreA} blueCore={blueCoreA} greyCore={greyCoreA}
        rRed={3} rBlue={3} rGrey={2.9} dotted={[119, 714]} labels={labelsA} titleX={415.5}
        leaders={[[420.7, 154.7, 454.7, 167.3], [571, 272, 560, 284]]} />
      <Volcano range={[1056.6, 1657.8]} red={[...redB, ...redCloudB]} blue={[...blueB, ...blueCloudB]} grey={greyB} redCore={redCoreB} blueCore={blueCoreB} greyCore={greyCoreB}
        rRed={2.7} rBlue={2.7} rGrey={2.5} dotted={[1064, 1661]} labels={labelsB} titleX={1357}
        leaders={[[1342.7, 164.3, 1376, 176.7], [1485, 278, 1490.7, 274], [1524.4, 348, 1524.4, 356]]} />

      <Venn />
      <Swarm />
    </svg>
  );
}
